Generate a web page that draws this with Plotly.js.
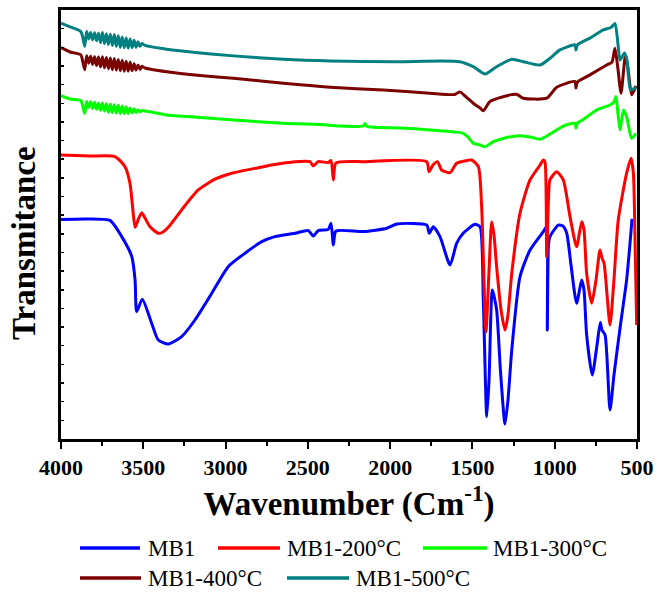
<!DOCTYPE html>
<html>
<head>
<meta charset="utf-8">
<script src="https://cdn.plot.ly/plotly-3.0.1.min.js"></script>
<style>html,body{margin:0;padding:0;background:#fff;}#chart{width:657px;height:592px;}</style>
</head>
<body>
<div id="chart"></div>
<script>
// ---- Data (wavenumber in cm^-1, transmittance in arbitrary offset units) ----
var seriesNames = ["MB1", "MB1-200°C", "MB1-300°C", "MB1-400°C", "MB1-500°C"];
var seriesColors = ["#0000FF", "#FF0000", "#00FF00", "#7B0000", "#008080"];

var mb1_x = [4000,3854,3702,3631,3570,3550,3540,3506,3449,3409,3348,3267,3186,3084,2984,2882,2780,2700,2578,2497,2467,2437,2376,2359,2345,2329,2163,2021,1960,1778,1762,1738,1697,1636,1596,1556,1484,1454,1434,1413,1399,1379,1353,1330,1302,1284,1261,1211,1150,1069,1051,1045,1038,1029,978,950,927,901,867,836,822,806,772,743,723,713,694,664,640,603,563,546,530];
var mb1_y = [11.77,11.80,11.72,10.85,9.78,8.53,6.83,7.49,6.20,5.31,5.09,5.49,6.38,7.81,9.24,9.96,10.58,10.85,11.03,11.17,10.88,11.17,11.24,11.57,10.40,11.15,11.12,11.30,11.53,11.47,11.03,11.38,10.85,9.33,10.49,11.03,11.51,11.38,7.45,1.20,3.16,7.99,6.92,3.70,0.80,2.09,4.77,8.70,10.13,11.12,11.37,5.84,10.40,10.85,11.47,11.42,11.03,9.33,7.28,8.53,7.99,5.58,3.43,5.04,6.24,5.84,5.58,1.55,3.43,5.95,8.53,10.13,11.80];

var mb1_200_x = [4000,3824,3672,3611,3581,3566,3550,3532,3510,3490,3459,3409,3380,3348,3267,3166,3064,2963,2821,2720,2578,2487,2467,2437,2376,2359,2345,2329,2163,1778,1764,1740,1712,1687,1636,1596,1545,1505,1464,1444,1418,1399,1383,1369,1353,1326,1302,1284,1261,1211,1150,1089,1069,1059,1049,1038,1029,988,948,907,867,836,822,806,775,749,725,713,700,664,640,614,563,536,522,512,502];
var mb1_200_y = [15.23,15.17,15.14,14.60,13.71,12.55,11.35,11.74,12.13,11.85,11.38,11.03,11.10,11.35,12.28,13.35,13.93,14.25,14.51,14.69,14.87,14.87,14.64,14.87,14.82,14.93,13.89,14.80,14.87,14.87,14.33,14.69,14.87,14.42,14.28,14.78,14.91,14.96,14.60,12.46,5.75,9.06,11.65,10.94,9.24,6.92,5.84,6.65,8.88,12.10,13.89,14.69,14.96,14.85,9.78,12.82,13.89,14.33,13.89,11.92,10.31,11.65,11.21,8.88,7.28,8.53,10.13,9.71,9.42,6.11,8.53,11.74,14.25,15.05,14.25,10.67,6.11];

var mb1_300_x = [4000,3945,3880,3868,3856,3844,3832,3820,3808,3796,3784,3772,3760,3748,3736,3724,3712,3700,3688,3676,3664,3652,3640,3628,3616,3604,3592,3580,3568,3556,3544,3532,3520,3508,3490,3358,3155,2953,2649,2386,2305,2163,2153,2141,1940,1758,1606,1556,1527,1495,1454,1423,1373,1302,1231,1150,1089,1029,948,877,871,862,826,745,664,640,628,615,603,582,561,533,506];
var mb1_300_y = [18.41,18.23,18.15,17.85,17.45,18.10,17.78,18.08,17.72,18.05,17.68,18.02,17.62,18.02,17.58,17.98,17.52,17.95,17.50,17.92,17.48,17.90,17.45,17.85,17.45,17.80,17.45,17.75,17.48,17.70,17.50,17.65,17.53,17.62,17.59,17.37,17.24,17.10,16.93,16.84,16.78,16.78,16.92,16.76,16.68,16.57,16.46,16.39,16.19,15.86,15.76,15.67,15.94,16.14,16.25,16.19,16.07,16.35,16.78,16.93,16.68,16.94,17.13,17.64,17.91,18.07,18.36,17.37,16.57,17.64,17.21,16.12,16.38];

var mb1_400_x = [4000,3945,3880,3868,3856,3844,3832,3820,3808,3796,3784,3772,3760,3748,3736,3724,3712,3700,3688,3676,3664,3652,3640,3628,3616,3604,3592,3580,3568,3556,3544,3532,3520,3508,3490,3358,3155,2953,2649,2365,2042,1758,1606,1576,1539,1495,1454,1434,1393,1272,1229,1191,1049,988,877,871,862,786,684,652,634,615,597,570,555,532,506];
var mb1_400_y = [20.98,20.75,20.60,20.25,19.80,20.55,20.15,20.52,20.08,20.50,20.02,20.48,19.95,20.50,19.90,20.45,19.85,20.42,19.80,20.40,19.78,20.35,19.75,20.30,19.72,20.25,19.72,20.20,19.75,20.12,19.78,20.05,19.82,19.98,19.89,19.69,19.49,19.34,19.07,18.86,18.71,18.54,18.47,18.61,18.34,18.00,17.75,17.60,18.09,18.45,18.47,18.27,18.27,18.86,19.16,18.82,19.14,19.52,20.05,20.21,20.95,19.79,18.54,20.59,19.89,18.45,18.93];

var mb1_500_x = [4000,3945,3880,3868,3856,3844,3832,3820,3808,3796,3784,3772,3760,3748,3736,3724,3712,3700,3688,3676,3664,3652,3640,3628,3616,3604,3592,3580,3568,3556,3544,3532,3520,3508,3490,3358,3155,2953,2649,2365,1960,1576,1495,1423,1353,1261,1191,1089,1029,968,877,871,862,786,705,658,634,615,603,576,561,539,506];
var mb1_500_y = [22.29,22.09,21.85,21.55,21.05,21.85,21.45,21.80,21.40,21.78,21.35,21.75,21.25,21.80,21.20,21.72,21.15,21.70,21.10,21.68,21.05,21.62,21.00,21.55,20.98,21.50,20.95,21.45,20.98,21.38,21.00,21.30,21.05,21.20,21.10,20.90,20.70,20.54,20.36,20.27,20.23,20.23,19.96,19.57,19.96,20.36,20.23,20.05,20.41,20.86,21.13,20.86,21.13,21.49,21.93,22.06,22.28,21.13,20.32,20.70,20.32,18.71,18.87];

var xTickVals = [4000,3500,3000,2500,2000,1500,1000,500];
var xMinorTickVals = [3750,3250,2750,2250,1750,1250,750];
var xTitle = "Wavenumber (Cm<sup>-1</sup>)";
var yTitle = "Transmitance";

// ---- Build ----
var FONT = 'Liberation Serif, Times New Roman, serif';
var xs = [mb1_x, mb1_200_x, mb1_300_x, mb1_400_x, mb1_500_x];
var ys = [mb1_y, mb1_200_y, mb1_300_y, mb1_400_y, mb1_500_y];
var traces = [];
for (var i = 0; i < xs.length; i++) {
  traces.push({
    x: xs[i], y: ys[i], type: 'scatter', mode: 'lines', name: seriesNames[i],
    line: {color: seriesColors[i], width: 3, shape: 'spline', smoothing: 0.6},
    showlegend: false, hoverinfo: 'skip'
  });
}

// custom legend (positions in pixels, converted to paper coords)
var W = 657, H = 592, ML = 61, MR = 20, MT = 10, MB = 153;
var PW = W - ML - MR, PH = H - MT - MB;
function px2x(p){ return (p - ML) / PW; }
function py2y(p){ return (H - MB - p) / PH; }
var legLine = [[80,140],[218,280],[423,487],[80,141],[287,349]];
var legTextX = [146,285,491,146,354];
var legRowY = [548,548,548,578,578];
var shapes = [], annotations = [];
for (var k = 0; k < seriesNames.length; k++) {
  shapes.push({type:'line', xref:'paper', yref:'paper',
    x0: px2x(legLine[k][0]), x1: px2x(legLine[k][1]),
    y0: py2y(legRowY[k]), y1: py2y(legRowY[k]),
    line:{color: seriesColors[k], width: 3.5}});
  annotations.push({xref:'paper', yref:'paper', x: px2x(legTextX[k]), y: py2y(legRowY[k]),
    xanchor:'left', yanchor:'middle', showarrow:false, text: seriesNames[k],
    font:{family: FONT, size:23, color:'#000'}});
}
// y-axis title placed as rotated text (reference sits slightly below plot centre)
annotations.push({xref:'paper', yref:'paper', x: px2x(24), y: py2y(243),
  xanchor:'center', yanchor:'middle', showarrow:false, textangle:-90, text: yTitle,
  font:{family: FONT, size:33, color:'#000', weight:'bold'}});

var layout = {
  width: W, height: H,
  margin: {l: ML, r: MR, t: MT, b: MB, pad: 0},
  paper_bgcolor: '#fff', plot_bgcolor: '#fff',
  showlegend: false,
  xaxis: {
    range: [4000, 500], autorange: false,
    tickvals: xTickVals, ticktext: xTickVals.map(String),
    ticks: 'outside', ticklen: 7, tickwidth: 2, tickcolor: '#000',
    minor: {tickvals: xMinorTickVals, ticks: 'outside', ticklen: 4, tickwidth: 2, tickcolor: '#000'},
    showline: true, linecolor: '#000', linewidth: 3, mirror: true,
    showgrid: false, zeroline: false,
    tickfont: {family: FONT, size: 22, color: '#000', weight: 'bold'},
    title: {text: xTitle, standoff: 11,
      font: {family: FONT, size: 33, color: '#000', weight: 'bold'}}
  },
  yaxis: {
    range: [0, 23], autorange: false, dtick: 1, tick0: 0,
    ticks: 'inside', ticklen: 3, tickwidth: 1.5, tickcolor: '#000',
    showticklabels: false,
    showline: true, linecolor: '#000', linewidth: 3, mirror: true,
    showgrid: false, zeroline: false
  },
  shapes: shapes,
  annotations: annotations
};

Plotly.newPlot('chart', traces, layout, {staticPlot: true, displayModeBar: false});
</script>
</body>
</html>
